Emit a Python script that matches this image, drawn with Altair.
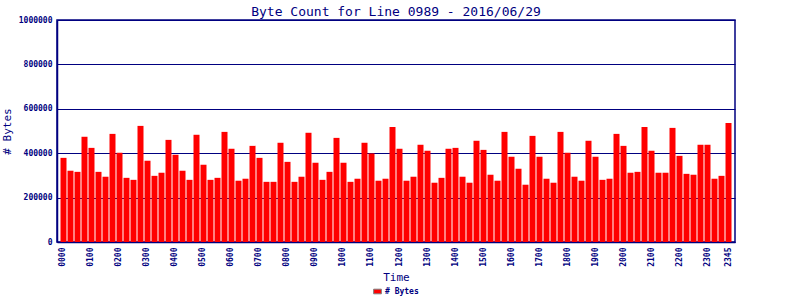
import altair as alt
import pandas as pd

times = [
    "0000", "0015", "0030", "0045", "0100", "0115", "0130", "0145",
    "0200", "0215", "0230", "0245", "0300", "0315", "0330", "0345",
    "0400", "0415", "0430", "0445", "0500", "0515", "0530", "0545",
    "0600", "0615", "0630", "0645", "0700", "0715", "0730", "0745",
    "0800", "0815", "0830", "0845", "0900", "0915", "0930", "0945",
    "1000", "1015", "1030", "1045", "1100", "1115", "1130", "1145",
    "1200", "1215", "1230", "1245", "1300", "1315", "1330", "1345",
    "1400", "1415", "1430", "1445", "1500", "1515", "1530", "1545",
    "1600", "1615", "1630", "1645", "1700", "1715", "1730", "1745",
    "1800", "1815", "1830", "1845", "1900", "1915", "1930", "1945",
    "2000", "2015", "2030", "2045", "2100", "2115", "2130", "2145",
    "2200", "2215", "2230", "2245", "2300", "2315", "2330", "2345",
]

byte_counts = [
    379000, 321000, 316000, 474000, 424000, 316000, 294000, 487000,
    402000, 289000, 280000, 523000, 366000, 298000, 312000, 460000,
    393000, 321000, 280000, 483000, 348000, 280000, 289000, 496000,
    420000, 276000, 285000, 433000, 379000, 271000, 271000, 447000,
    361000, 271000, 294000, 492000, 357000, 280000, 316000, 469000,
    357000, 271000, 285000, 447000, 399000, 276000, 285000, 518000,
    420000, 276000, 294000, 438000, 411000, 267000, 289000, 420000,
    424000, 294000, 267000, 456000, 415000, 303000, 276000, 496000,
    384000, 330000, 258000, 478000, 384000, 285000, 267000, 496000,
    402000, 294000, 276000, 456000, 384000, 280000, 285000, 487000,
    433000, 312000, 316000, 518000, 411000, 312000, 312000, 514000,
    388000, 307000, 303000, 438000, 438000, 285000, 298000, 536000,
]

tick_times = ["0000", "0100", "0200", "0300", "0400", "0500", "0600", "0700",
              "0800", "0900", "1000", "1100", "1200", "1300", "1400", "1500",
              "1600", "1700", "1800", "1900", "2000", "2100", "2200", "2300",
              "2345"]

y_ticks = [0, 200000, 400000, 600000, 800000, 1000000]

series_name = "# Bytes"

df = pd.DataFrame({"Time": times, "Bytes": byte_counts, "Series": series_name})

NAVY = "#000080"
FONT = "DejaVu Sans Mono"

chart = (
    alt.Chart(df)
    .mark_bar(color="#FF0000")
    .encode(
        x=alt.X(
            "Time:N",
            sort=times,
            scale=alt.Scale(paddingInner=0.143, paddingOuter=0.5),
            axis=alt.Axis(
                values=tick_times,
                labelAngle=270,
                labelAlign="right",
                labelBaseline="middle",
                labelPadding=5,
                ticks=False,
                domainColor=NAVY,
                domainWidth=1.5,
                labelColor=NAVY,
                labelFont=FONT,
                labelFontSize=8,
                labelFontWeight="bold",
                title="Time",
                titleColor=NAVY,
                titleFont=FONT,
                titleFontSize=11,
                titleFontWeight="normal",
                titlePadding=5,
            ),
        ),
        y=alt.Y(
            "Bytes:Q",
            scale=alt.Scale(domain=[0, 1000000], nice=False),
            axis=alt.Axis(
                values=y_ticks,
                format="d",
                ticks=False,
                grid=True,
                gridColor=NAVY,
                gridWidth=1,
                gridOpacity=1,
                domainColor=NAVY,
                domainWidth=1.5,
                labelColor=NAVY,
                labelFont=FONT,
                labelFontSize=8,
                labelFontWeight="bold",
                labelPadding=5,
                title="# Bytes",
                titleColor=NAVY,
                titleFont=FONT,
                titleFontSize=11,
                titleFontWeight="normal",
                titlePadding=6,
            ),
        ),
        fill=alt.Fill(
            "Series:N",
            scale=alt.Scale(domain=[series_name], range=["#FF0000"]),
            legend=alt.Legend(
                title=None,
                orient="none",
                legendX=316,
                legendY=267,
                direction="horizontal",
                symbolType="M-1,-0.6H1V0.6H-1Z",
                symbolSize=60,
                symbolStrokeColor="#808080",
                symbolStrokeWidth=1,
                labelColor=NAVY,
                labelFont=FONT,
                labelFontSize=8,
                labelFontWeight="bold",
                labelOffset=3,
            ),
        ),
    )
    .properties(
        width=678,
        height=222,
        title=alt.TitleParams(
            "Byte Count for Line 0989 - 2016/06/29",
            color=NAVY,
            font=FONT,
            fontSize=13,
            fontWeight="normal",
            frame="group",
            offset=0,
            dy=3,
        ),
        autosize=alt.AutoSizeParams(type="none"),
        padding={"left": 57, "top": 20, "right": 65, "bottom": 58},
        background="white",
    )
    .configure_view(stroke=NAVY, strokeWidth=1.5)
)

chart.save("out.html", embed_options={"renderer": "svg", "actions": False})
